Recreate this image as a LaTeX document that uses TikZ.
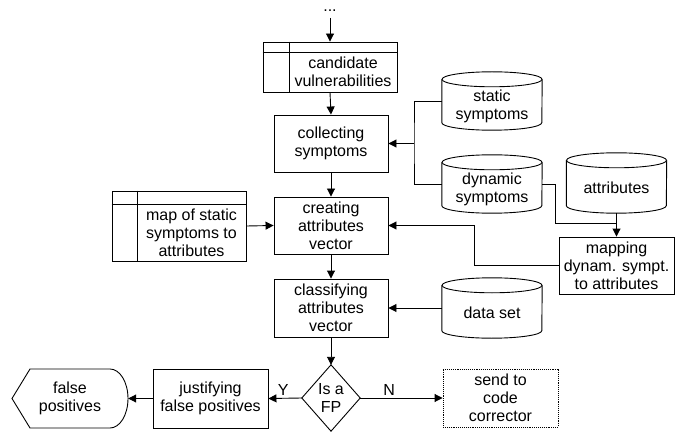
\documentclass[tikz,border=0pt]{standalone}
\usepackage{fontspec}
\setmainfont{Liberation Sans}
\usetikzlibrary{arrows.meta,calc}
\tikzset{
  every picture/.style={x=1pt,y=1pt},
  ln/.style={line width=0.9pt},
  arr/.style={ln,-{Triangle[length=8pt,width=8pt]}},
  txt/.style={font=\fontsize{16}{18}\selectfont,align=center,inner sep=0pt},
  proc/.style={txt,draw,ln,rectangle,minimum width=#1},
  proc/.default=114pt,
  cylnode/.style={txt,rectangle,minimum width=100pt,minimum height=#1},
  cylnode/.default=58pt,
  ghost/.style={txt,rectangle},
}
\newcommand\mycyl[5]{%
  \node[cylnode=#5] (#1) at (#2,#3) {};
  \node[txt] (#1txt) at ($(#1.center)+(0,-5)$) {#4};
  \draw[ln] ($(#1.north west)+(0,-7.5)$) -- ($(#1.south west)+(0,7.5)$)
     arc[start angle=180,end angle=360,x radius=50pt,y radius=7.5pt]
     -- ($(#1.north east)+(0,-7.5)$);
  \draw[ln] ($(#1.north)+(0,-7.5)$) ellipse[x radius=50pt,y radius=7.5pt];
}
\begin{document}
\begin{tikzpicture}
\useasboundingbox (0,0) rectangle (685,437);

% top
\node[txt] (dots) at (330,426) {...};
\coordinate (start) at (330,419);

% candidate vulnerabilities (internal storage)
\node[ghost,draw,ln,minimum width=134pt,minimum height=50pt] (cand) at (330,370) {};
\draw[ln] (cand.west |- 0,385) -- (cand.east |- 0,385);
\draw[ln] (289,0 |- cand.north) -- (289,0 |- cand.south);
\node[txt] (candtxt) at (343,365) {candidate\\vulnerabilities};

% main column
\node[proc,minimum height=57pt] (coll) at (331,293.5) {collecting\\symptoms};
\node[proc,minimum height=57pt] (create) at (331,211.5) {creating\\attributes\\vector};
\node[proc,minimum height=58pt] (class) at (331,129) {classifying\\attributes\\vector};

% decision
\node[ghost,minimum width=58pt,minimum height=66pt] (dec) at (331,39) {Is a\\FP};
\draw[ln] (dec.north) -- (dec.east) -- (dec.south) -- (dec.west) -- cycle;

% cylinders
\mycyl{stat}{492}{336}{static\\symptoms}{58pt}
\mycyl{dyn}{492}{253}{dynamic\\symptoms}{58pt}
\mycyl{attr}{616.5}{254}{attributes}{60pt}
\mycyl{data}{492}{129}{data set}{60pt}

% mapping
\node[proc=115pt,minimum height=57pt] (map) at (616.5,171.5) {mapping\\dynam. sympt.\\to attributes};

% map of static symptoms (internal storage)
\node[ghost,draw,ln,minimum width=134pt,minimum height=70pt] (msb) at (179,211) {};
\draw[ln] (msb.west |- 0,233) -- (msb.east |- 0,233);
\draw[ln] (137,0 |- msb.north) -- (137,0 |- msb.south);
\node[txt] (msbtxt) at (191.5,204.5) {map of static\\symptoms to\\attributes};

% bottom row
\node[proc=115pt,minimum height=59pt] (just) at (210.5,38.5) {justifying\\false positives};
\node[ghost,minimum width=116pt,minimum height=59pt] (fp) at (70,38.5) {false\\positives};
\draw[ln] (12,38.5) -- (30,68) -- (110,68)
   arc[start angle=90,end angle=-90,x radius=18pt,y radius=29.5pt]
   -- (30,9) -- cycle;
\node[txt,draw,ln,densely dotted,minimum width=115pt,minimum height=58pt] (send) at (500.5,39) {send to\\code\\corrector};

% connectors
\draw[arr] (start) -- (cand.north);
\draw[arr] (cand.south) -- (coll.north);
\draw[arr] (coll.south) -- (create.north);
\draw[arr] (create.south) -- (class.north);
\draw[arr] (class.south) -- (dec.north);

\coordinate (jn) at (414,293.5);
\draw[ln] (stat.west) -| (jn) |- (dyn.west);
\draw[arr] (jn) -- (coll.east);

\coordinate (dm) at (555,214);
\draw[ln] (dyn.east) -| (dm) -- (map.north |- dm);
\draw[arr] (attr.south) -- (map.north);

\coordinate (mc) at (474,211.5);
\draw[arr] (map.west) -| (mc) -- (create.east);
\draw[arr] (msb.east) -- (create.west);
\draw[arr] (data.west) -- (class.east);

\draw[arr] (dec.west) -- node[txt,pos=0.56,above=2pt] {Y} (just.east);
\draw[arr] (dec.east) -- node[txt,pos=0.35,above=2pt] {N} (send.west);
\draw[arr] (just.west) -- (fp.east);
\end{tikzpicture}
\end{document}
